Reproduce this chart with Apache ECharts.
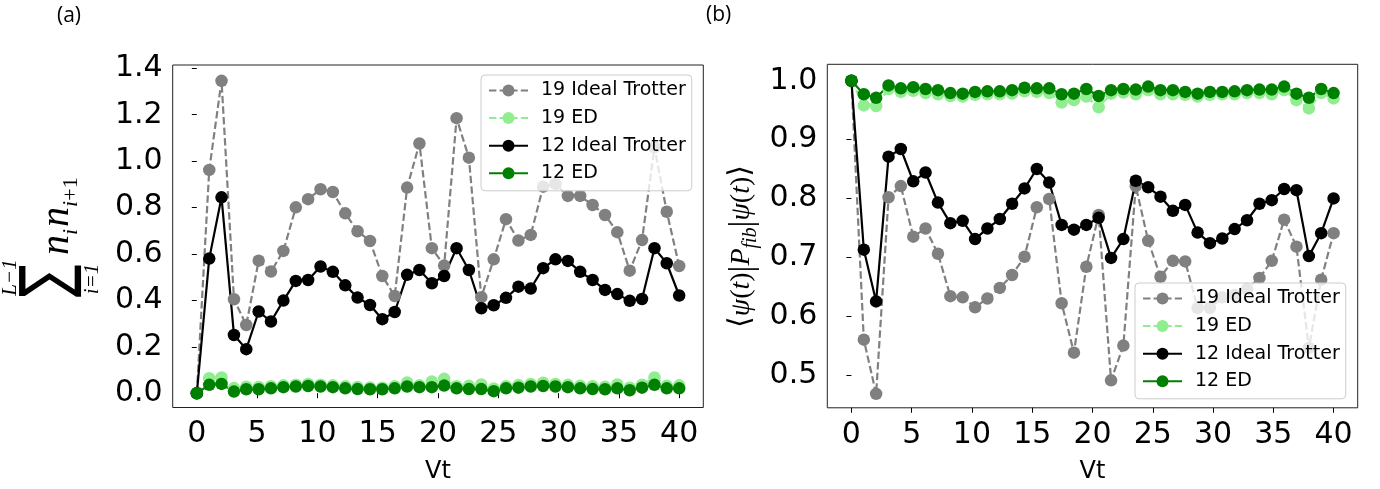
<!DOCTYPE html>
<html>
<head>
<meta charset="utf-8">
<script src="https://cdn.jsdelivr.net/npm/echarts@6/dist/echarts.min.js"></script>
<style>
  html, body { margin: 0; padding: 0; background: #fff; }
  #chart { width: 1380px; height: 489px; }
</style>
</head>
<body>
<div id="chart"></div>
<script>
// Time grid (Vt), 40 samples from 0 to 40
const vt = [0, 1.03, 2.05, 3.08, 4.10, 5.13, 6.15, 7.18, 8.21, 9.23, 10.26, 11.28, 12.31, 13.33,
  14.36, 15.38, 16.41, 17.44, 18.46, 19.49, 20.51, 21.54, 22.56, 23.59, 24.62, 25.64, 26.67,
  27.69, 28.72, 29.74, 30.77, 31.79, 32.82, 33.85, 34.87, 35.90, 36.92, 37.95, 38.97, 40];

// (a) sum of n_i n_{i+1}
const nn19Trotter = [0, 0.962, 1.346, 0.405, 0.294, 0.571, 0.524, 0.613, 0.801, 0.836, 0.879, 0.867,
  0.775, 0.698, 0.656, 0.505, 0.419, 0.886, 1.076, 0.625, 0.550, 1.185, 1.015, 0.414, 0.577, 0.750,
  0.658, 0.682, 0.890, 0.902, 0.850, 0.850, 0.811, 0.768, 0.694, 0.528, 0.660, 1.060, 0.782, 0.548];
const nn19ED = [0, 0.065, 0.068, 0.022, 0.028, 0.027, 0.030, 0.034, 0.037, 0.040, 0.037, 0.034,
  0.030, 0.027, 0.025, 0.024, 0.030, 0.046, 0.034, 0.050, 0.062, 0.030, 0.032, 0.038, 0.020, 0.030,
  0.035, 0.040, 0.045, 0.040, 0.036, 0.032, 0.030, 0.028, 0.038, 0.024, 0.036, 0.068, 0.032, 0.034];
const nn12Trotter = [0, 0.580, 0.844, 0.251, 0.190, 0.352, 0.309, 0.399, 0.484, 0.488, 0.546, 0.523,
  0.465, 0.412, 0.380, 0.319, 0.350, 0.510, 0.531, 0.474, 0.505, 0.625, 0.531, 0.366, 0.379, 0.411,
  0.459, 0.451, 0.539, 0.577, 0.570, 0.523, 0.488, 0.445, 0.427, 0.398, 0.406, 0.625, 0.560, 0.421];
const nn12ED = [0, 0.036, 0.040, 0.007, 0.017, 0.017, 0.021, 0.026, 0.029, 0.031, 0.029, 0.026,
  0.021, 0.018, 0.017, 0.017, 0.021, 0.029, 0.026, 0.026, 0.033, 0.021, 0.018, 0.018, 0.009, 0.021,
  0.024, 0.029, 0.031, 0.029, 0.026, 0.021, 0.018, 0.017, 0.021, 0.013, 0.024, 0.036, 0.021, 0.021];

// (b) <psi(t)|P_fib|psi(t)>
const fib19Trotter = [1.0, 0.560, 0.468, 0.802, 0.821, 0.735, 0.749, 0.706, 0.634, 0.632, 0.615, 0.630,
  0.648, 0.670, 0.701, 0.785, 0.799, 0.622, 0.538, 0.684, 0.772, 0.491, 0.550, 0.821, 0.728, 0.667,
  0.694, 0.693, 0.614, 0.614, 0.632, 0.636, 0.646, 0.665, 0.694, 0.764, 0.718, 0.546, 0.662, 0.741];
const fib19ED = [1.0, 0.958, 0.957, 0.986, 0.981, 0.983, 0.979, 0.977, 0.974, 0.973, 0.976, 0.977,
  0.977, 0.978, 0.982, 0.981, 0.979, 0.963, 0.967, 0.973, 0.955, 0.978, 0.980, 0.977, 0.984, 0.977,
  0.977, 0.976, 0.973, 0.976, 0.977, 0.977, 0.979, 0.979, 0.977, 0.984, 0.967, 0.953, 0.979, 0.970];
const fib12Trotter = [1.0, 0.713, 0.625, 0.871, 0.884, 0.829, 0.844, 0.793, 0.758, 0.762, 0.731, 0.749,
  0.765, 0.791, 0.817, 0.850, 0.827, 0.755, 0.747, 0.755, 0.767, 0.699, 0.731, 0.830, 0.819, 0.803,
  0.779, 0.789, 0.742, 0.724, 0.732, 0.748, 0.763, 0.791, 0.797, 0.816, 0.814, 0.702, 0.741, 0.800];
const fib12ED = [1.0, 0.977, 0.971, 0.992, 0.987, 0.989, 0.986, 0.984, 0.979, 0.978, 0.981, 0.982,
  0.982, 0.984, 0.988, 0.987, 0.987, 0.977, 0.978, 0.986, 0.974, 0.984, 0.986, 0.985, 0.990, 0.984,
  0.984, 0.981, 0.978, 0.981, 0.981, 0.982, 0.984, 0.985, 0.985, 0.990, 0.978, 0.971, 0.986, 0.979];

const seriesNames = ['19 Ideal Trotter', '19 ED', '12 Ideal Trotter', '12 ED'];
const xTicks = [0, 5, 10, 15, 20, 25, 30, 35, 40];
const yTicksA = [0, 0.2, 0.4, 0.6, 0.8, 1.0, 1.2, 1.4];
const yTicksB = [0.5, 0.6, 0.7, 0.8, 0.9, 1.0];

const TICK_FONT = 'DejaVu Sans';
const MATH_FONT = '"Liberation Serif", "DejaVu Serif", serif';
const DASH = [7.4, 3.2];

function makeLine(name, values, idx, color, dashed) {
  return {
    type: 'line', name: name, xAxisIndex: idx, yAxisIndex: idx,
    data: vt.map((t, i) => [t, values[i]]),
    symbol: 'circle', symbolSize: 12.5, showSymbol: true,
    itemStyle: { color: color },
    lineStyle: { color: color, width: 2.2, type: dashed ? DASH : 'solid' },
    emphasis: { disabled: true },
    animation: false
  };
}

function xAxisFor(idx) {
  return {
    type: 'value', gridIndex: idx, min: -2, max: 42,
    name: 'Vt', nameLocation: 'middle', nameGap: 52,
    nameTextStyle: { fontFamily: TICK_FONT, fontSize: 24, color: '#000' },
    axisLine: { show: false },
    splitLine: { show: false },
    axisTick: { show: true, inside: false, length: 5, customValues: xTicks,
      lineStyle: { color: '#000', width: 1 } },
    axisLabel: { customValues: xTicks, margin: 12, color: '#000',
      fontFamily: TICK_FONT, fontSize: 30, formatter: v => String(Math.round(v)) }
  };
}

function yAxisFor(idx, min, max, ticks) {
  return {
    type: 'value', gridIndex: idx, min: min, max: max,
    axisLine: { show: false },
    splitLine: { show: false },
    axisTick: { show: true, inside: false, length: 5, customValues: ticks,
      lineStyle: { color: '#000', width: 1 } },
    axisLabel: { customValues: ticks, margin: 10, color: '#000',
      fontFamily: TICK_FONT, fontSize: 30, formatter: v => v.toFixed(1) }
  };
}

function legendAt(left, top) {
  return {
    data: seriesNames, orient: 'vertical', left: left, top: top,
    itemWidth: 39, itemHeight: 15, itemGap: 8.6,
    padding: [6, 6, 8, 7],
    backgroundColor: 'rgba(255,255,255,0.8)',
    borderColor: '#cccccc', borderWidth: 1, borderRadius: 4,
    selectedMode: false,
    textStyle: { fontFamily: TICK_FONT, fontSize: 19, color: '#000', padding: [0, 0, 0, 8] }
  };
}

// Axis-title typesetting: pieces laid out along a rotated baseline
const measureCtx = document.createElement('canvas').getContext('2d');
function fontOf(p) { return (p.italic ? 'italic ' : '') + p.size + 'px ' + (p.family || MATH_FONT); }
function textEl(str, x, y, p, align, extra) {
  return Object.assign({
    type: 'text', x: x, y: y, silent: true,
    style: { text: str, font: fontOf(p), fill: '#000',
      align: align || 'left', verticalAlign: 'middle',
      textAlign: align || 'left', textVerticalAlign: 'middle' }
  }, extra || {});
}
function runPieces(pieces, startX) {
  let x = startX;
  const out = [];
  pieces.forEach(p => {
    measureCtx.font = fontOf(p);
    const w = measureCtx.measureText(p.text).width;
    out.push(textEl(p.text, x, (p.dy || 0) - 0.305 * p.size, p));
    x += w + (p.gap || 0);
  });
  return { els: out, width: x - startX };
}

// (a): sum_{i=1}^{L-1} n_i n_{i+1}
function sumLabel() {
  const nPart = runPieces([
    { text: 'n', size: 40, italic: true },
    { text: 'i', size: 22, italic: true, dy: 8, gap: 2 },
    { text: 'n', size: 40, italic: true },
    { text: 'i', size: 22, italic: true, dy: 8 },
    { text: '+', size: 22, dy: 8 },
    { text: '1', size: 22, dy: 8 }
  ], -17).els;
  const children = [
    textEl('\u2211', -43, -20, { size: 68, family: 'DejaVu Sans' }, 'center', { scaleX: 0.72 }),
    textEl('L\u22121', -39.5, -60, { size: 21, italic: true }, 'center'),
    textEl('i=1', -41, 22, { size: 21, italic: true }, 'center')
  ].concat(nPart);
  return { type: 'group', x: 70, y: 238, rotation: Math.PI / 2, silent: true, children: children };
}

// (b): <psi(t)|P_fib|psi(t)>
function fibLabel() {
  const pieces = [
    { text: '\u27E8', size: 30 },
    { text: '\u03C8', size: 28, italic: true },
    { text: '(', size: 28 },
    { text: 't', size: 28, italic: true },
    { text: ')', size: 28 },
    { text: '|', size: 34, dy: 3 },
    { text: 'P', size: 28, italic: true },
    { text: 'fib', size: 20, italic: true, dy: 7 },
    { text: '|', size: 34, dy: 3 },
    { text: '\u03C8', size: 28, italic: true },
    { text: '(', size: 28 },
    { text: 't', size: 28, italic: true },
    { text: ')', size: 28 },
    { text: '\u27E9', size: 30 }
  ];
  const first = runPieces(pieces, 0);
  const laid = runPieces(pieces, -first.width / 2).els;
  return { type: 'group', x: 750, y: 246.5, rotation: Math.PI / 2, silent: true, children: laid };
}

const chart = echarts.init(document.getElementById('chart'), null, { renderer: 'canvas' });
chart.setOption({
  backgroundColor: '#ffffff',
  animation: false,
  grid: [
    { left: 172.7, top: 65, width: 530.6, height: 342.5, show: true,
      borderColor: '#222', borderWidth: 1, backgroundColor: 'transparent', containLabel: false },
    { left: 827.3, top: 64.3, width: 530.4, height: 343.5, show: true,
      borderColor: '#222', borderWidth: 1, backgroundColor: 'transparent', containLabel: false }
  ],
  xAxis: [xAxisFor(0), xAxisFor(1)],
  yAxis: [yAxisFor(0, -0.0615, 1.4142, yTicksA), yAxisFor(1, 0.4443, 1.0279, yTicksB)],
  legend: [legendAt(481, 75), legendAt(1135, 283)],
  series: [
    makeLine('19 Ideal Trotter', nn19Trotter, 0, '#808080', true),
    makeLine('19 ED', nn19ED, 0, '#90ee90', true),
    makeLine('12 Ideal Trotter', nn12Trotter, 0, '#000000', false),
    makeLine('12 ED', nn12ED, 0, '#008000', false),
    makeLine('19 Ideal Trotter', fib19Trotter, 1, '#808080', true),
    makeLine('19 ED', fib19ED, 1, '#90ee90', true),
    makeLine('12 Ideal Trotter', fib12Trotter, 1, '#000000', false),
    makeLine('12 ED', fib12ED, 1, '#008000', false)
  ],
  graphic: [
    { type: 'text', left: 57, top: 6, silent: true,
      style: { text: '(a)', font: '21px "Open Sans", "Noto Sans", sans-serif', fill: '#000' } },
    { type: 'text', left: 706, top: 5, silent: true,
      style: { text: '(b)', font: '21px "Open Sans", "Noto Sans", sans-serif', fill: '#000' } },
    sumLabel(),
    fibLabel()
  ]
});
</script>
</body>
</html>
